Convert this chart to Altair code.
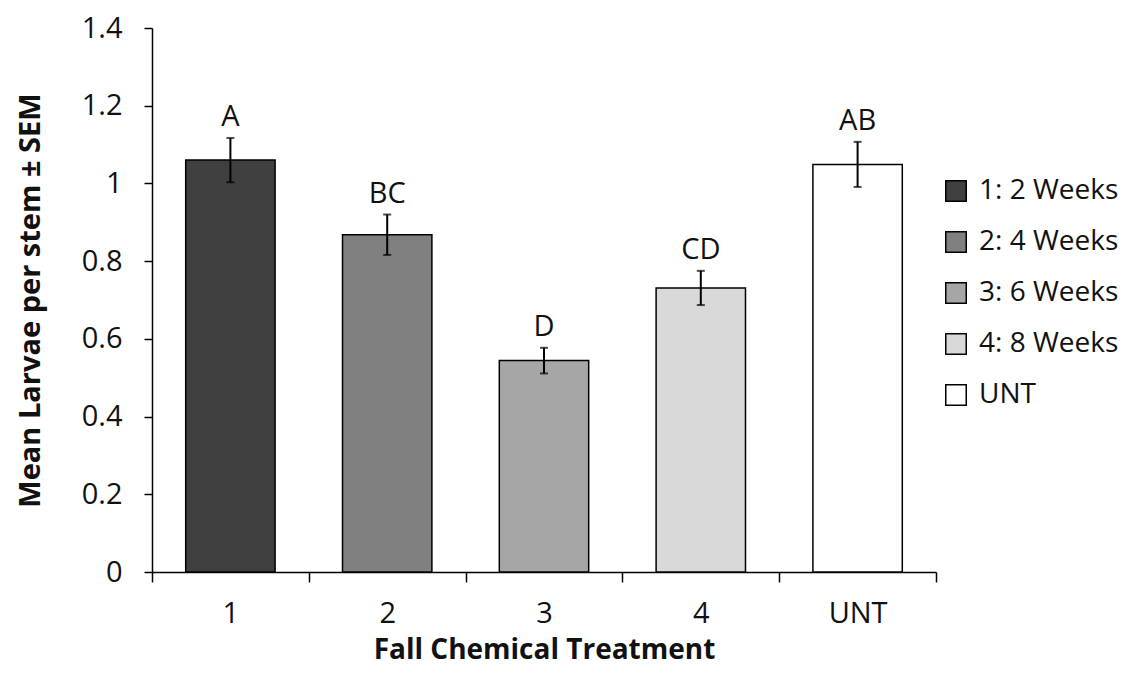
import altair as alt
import pandas as pd

categories = ["1", "2", "3", "4", "UNT"]
legend_labels = ["1: 2 Weeks", "2: 4 Weeks", "3: 6 Weeks", "4: 8 Weeks", "UNT"]
means = [1.06, 0.868, 0.544, 0.731, 1.049]
sems = [0.057, 0.052, 0.033, 0.044, 0.058]
letters = ["A", "BC", "D", "CD", "AB"]
colors = ["#404040", "#808080", "#a6a6a6", "#d9d9d9", "#ffffff"]
y_ticks = [0, 0.2, 0.4, 0.6, 0.8, 1.0, 1.2, 1.4]

df = pd.DataFrame({
    "cat": categories,
    "group": legend_labels,
    "mean": means,
    "lo": [m - s for m, s in zip(means, sems)],
    "hi": [m + s for m, s in zip(means, sems)],
    "letter": letters,
})

FONT = "Open Sans"
FS = 29

x_scale = alt.Scale(paddingInner=0, paddingOuter=0)
x = alt.X(
    "cat:N",
    sort=categories,
    title="Fall Chemical Treatment",
    scale=x_scale,
    axis=alt.Axis(
        tickBand="extent", labelAngle=0, tickSize=10, labelPadding=17,
        titlePadding=8, labelFontSize=FS, titleFontSize=28, titleFontWeight="bold",
    ),
)
y_scale = alt.Scale(domain=[0, 1.4], nice=False)

base = alt.Chart(df)

bars = base.mark_bar(stroke="black", strokeWidth=1.5, width=alt.RelativeBandSize(0.57)).encode(
    x=x,
    y=alt.Y(
        "mean:Q",
        scale=y_scale,
        title="Mean Larvae per stem ± SEM",
        axis=alt.Axis(
            values=y_ticks, format="~g", tickSize=8, labelPadding=22,
            titlePadding=36, labelFontSize=FS, titleFontSize=FS, titleFontWeight="bold",
            grid=False,
        ),
    ),
    fill=alt.Fill(
        "group:N",
        scale=alt.Scale(domain=legend_labels, range=colors),
        legend=alt.Legend(
            title=None, orient="none", legendX=790, legendY=149,
            symbolType="square", symbolSize=420, symbolStrokeColor="black",
            symbolStrokeWidth=1.5, labelFontSize=28, rowPadding=23, labelOffset=9,
            symbolOpacity=1,
        ),
    ),
)

err = base.mark_rule(color="black", strokeWidth=2).encode(
    x=alt.X("cat:N", sort=categories, scale=x_scale),
    y=alt.Y("lo:Q", scale=y_scale),
    y2="hi:Q",
)
cap_lo = base.mark_tick(color="black", thickness=2, size=8, orient="horizontal").encode(
    x=alt.X("cat:N", sort=categories, scale=x_scale),
    y=alt.Y("lo:Q", scale=y_scale),
)
cap_hi = base.mark_tick(color="black", thickness=2, size=8, orient="horizontal").encode(
    x=alt.X("cat:N", sort=categories, scale=x_scale),
    y=alt.Y("hi:Q", scale=y_scale),
)
text = base.mark_text(baseline="bottom", dy=-6, fontSize=FS, font=FONT, color="#111111").encode(
    x=alt.X("cat:N", sort=categories, scale=x_scale),
    y=alt.Y("hi:Q", scale=y_scale),
    text="letter:N",
)

chart = (
    alt.layer(bars, err, cap_lo, cap_hi, text)
    .properties(
        width=784, height=544,
        autosize=alt.AutoSizeParams(type="none"),
        padding={"left": 144, "top": 20, "right": 192, "bottom": 96},
        background="white",
    )
    .configure_view(stroke=None)
    .configure_axis(
        domainColor="black", tickColor="black", domainWidth=1.5, tickWidth=1.5,
        labelColor="#111111", titleColor="#111111", labelFont=FONT, titleFont=FONT,
    )
    .configure_legend(labelFont=FONT, labelColor="#111111")
)

chart.save("out.html", embed_options={"renderer": "svg", "actions": False})
